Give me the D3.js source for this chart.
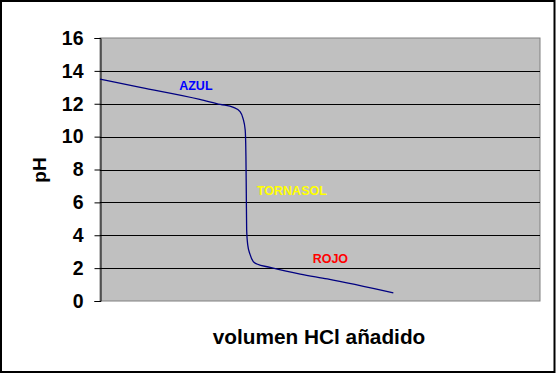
<!DOCTYPE html>
<html>
<head>
<meta charset="utf-8">
<script src="https://cdn.jsdelivr.net/npm/d3@7"></script>
<style>
  body { margin: 0; background: #fff; }
  svg text { font-family: "Liberation Sans", Arial, sans-serif; font-weight: bold; }
</style>
</head>
<body>
<div id="chart"></div>
<script>
// volumen HCl (mL) y pH
var volumen = [0, 5.5, 13.6, 16.4, 18.2, 19.1, 19.5, 19.8, 19.9, 19.95, 20.0, 20.15, 20.45, 20.9, 21.4, 23.2, 27.3, 31.0, 40];
var ph      = [13.5, 13.0, 12.27, 11.96, 11.78, 11.52, 11.11, 10.4, 8.78, 6.55, 4.32, 3.4, 2.85, 2.39, 2.25, 2.05, 1.64, 1.34, 0.49];
var yTicks = [0, 2, 4, 6, 8, 10, 12, 14, 16];

var labelText  = ["AZUL", "TORNASOL", "ROJO"];
var labelX     = [10.8, 21.4, 29.0];
var labelPH    = [12.85, 6.45, 2.32];
var labelColor = ["#0000ff", "#ffff00", "#ff0000"];

var width = 560, height = 377;
var margin = {top: 38, left: 100, right: 20, bottom: 76};

var svg = d3.select("#chart")
  .append("svg")
  .attr("width", width)
  .attr("height", height);

var xScale = d3.scaleLinear()
  .domain([0, 60])
  .range([margin.left, width - margin.right]);

var yScale = d3.scaleLinear()
  .domain([0, 16])
  .range([height - margin.bottom, margin.top]);

// outer frame
svg.append("rect")
  .attr("x", 1).attr("y", 1)
  .attr("width", 553.5).attr("height", 371)
  .attr("fill", "#fff")
  .attr("stroke", "#000")
  .attr("stroke-width", 2);

// plot area
svg.append("rect")
  .attr("x", xScale(0)).attr("y", yScale(16))
  .attr("width", xScale(60) - xScale(0))
  .attr("height", yScale(0) - yScale(16))
  .attr("fill", "#c0c0c0")
  .attr("stroke", "#808080")
  .attr("stroke-width", 1);

// gridlines
svg.selectAll(".grid")
  .data(yTicks.filter(function(d) { return d > 0 && d < 16; }))
  .enter().append("line")
  .attr("x1", xScale(0)).attr("x2", xScale(60))
  .attr("y1", function(d) { return Math.round(yScale(d)) + 0.5; })
  .attr("y2", function(d) { return Math.round(yScale(d)) + 0.5; })
  .attr("stroke", "#000");

// y axis
var yAxis = svg.append("g")
  .attr("transform", "translate(" + (margin.left + 0.5) + ",0)")
  .call(d3.axisLeft(yScale).tickValues(yTicks).tickSize(6).tickPadding(11));
yAxis.select(".domain").attr("stroke", "#000");
yAxis.selectAll("text").attr("font-size", 19.5).attr("fill", "#000")
  .style("font-family", "Liberation Sans, Arial, sans-serif").style("font-weight", "bold");

// curve
var line = d3.line()
  .x(function(d, i) { return xScale(volumen[i]); })
  .y(function(d) { return yScale(d); })
  .curve(d3.curveMonotoneX);

svg.append("path")
  .datum(ph)
  .attr("d", line)
  .attr("fill", "none")
  .attr("stroke", "#000080")
  .attr("stroke-width", 1.3);

// indicator labels
svg.selectAll(".lbl")
  .data(labelText)
  .enter().append("text")
  .attr("x", function(d, i) { return xScale(labelX[i]); })
  .attr("y", function(d, i) { return yScale(labelPH[i]); })
  .attr("font-size", 12.5)
  .attr("fill", function(d, i) { return labelColor[i]; })
  .text(function(d) { return d; });

// axis titles
svg.append("text")
  .attr("x", 319).attr("y", 344)
  .attr("text-anchor", "middle")
  .attr("font-size", 20.8)
  .text("volumen HCl añadido");

svg.append("text")
  .attr("transform", "rotate(-90)")
  .attr("x", -170).attr("y", 46)
  .attr("text-anchor", "middle")
  .attr("font-size", 19)
  .text("pH");
</script>
</body>
</html>
